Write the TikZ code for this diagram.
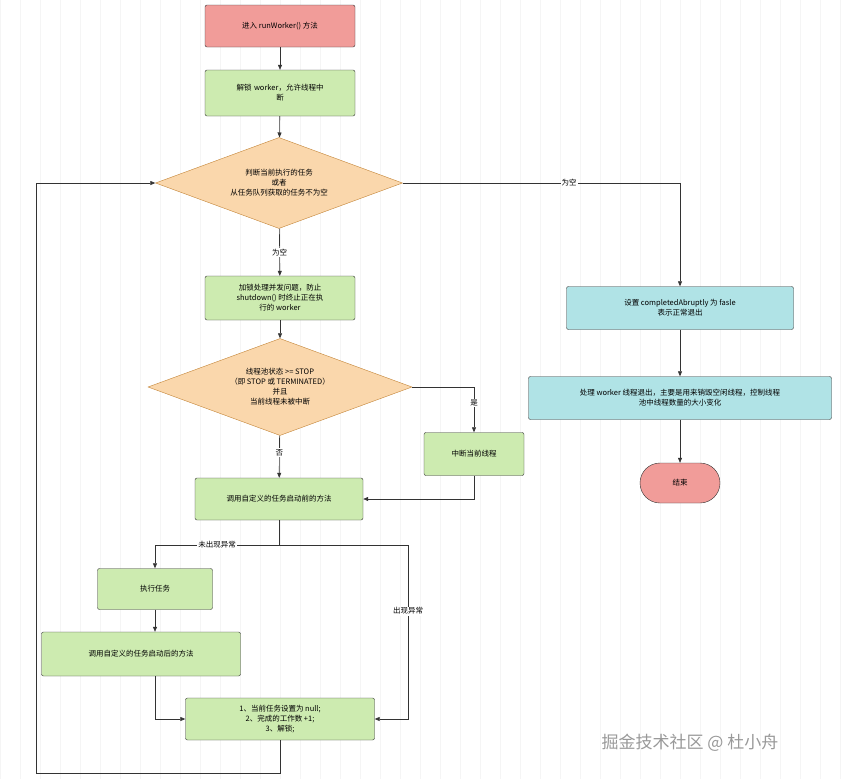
\documentclass[tikz,border=0pt]{standalone}
\usepackage{fontspec}
\setmainfont{Noto Sans CJK SC}[BoldFont={Noto Sans CJK SC Bold}]
\usetikzlibrary{shapes.geometric,arrows.meta}
\definecolor{redfill}{HTML}{F19C99}
\definecolor{greenfill2}{HTML}{CDEBB0}
\definecolor{orangefill}{HTML}{FAD7AC}
\definecolor{orangeline}{HTML}{B46504}
\definecolor{cyanfill}{HTML}{B0E3E6}
\tikzset{
  box/.style = {draw, rounded corners=2pt, align=center, inner sep=2pt, font=\fontsize{7.5}{10}\selectfont},
  green box/.style = {box, fill=greenfill2, draw=black!80},
  cyan box/.style = {box, fill=cyanfill, draw=black!80},
  red box/.style = {box, fill=redfill, draw=black!80},
  decide/.style = {diamond, aspect=2.7, draw=orangeline!80, fill=orangefill, align=center, inner sep=0pt, font=\fontsize{7.5}{10}\selectfont},
  flow/.style = {draw=black!80, line width=0.6pt, -{Triangle[length=5pt,width=4pt]}},
  lbl/.style = {fill=white, inner sep=1pt, font=\fontsize{7.5}{9}\selectfont},
}
\begin{document}
\begin{tikzpicture}[x=1pt, y=-1pt]
    \useasboundingbox (0,0) rectangle (843,779);
    \fill[white] (0,0) rectangle (843,779);
    % background grid
    \draw[black!4, line width=0.4pt, step=20] (0,0) grid (843,779);

    \node[red box, minimum width=150, minimum height=42] (start) at (280,26) {进入 runWorker() 方法};
    \node[green box, text width=140, minimum width=150, minimum height=46] (unlock) at (280,93) {解锁 worker，允许线程中\\断};
    \node[decide, minimum width=247, minimum height=91] (check) at (279,183) {判断当前执行的任务\\或者\\从任务队列获取的任务不为空};
    \node[green box, minimum width=150, minimum height=44] (lock) at (280,298) {加锁处理并发问题，防止\\shutdown() 时终止正在执\\行的 worker};
    \node[decide, minimum width=264, minimum height=97] (state) at (280,387) {线程池状态 >= STOP\\（即 STOP 或 TERMINATED）\\并且\\当前线程未被中断};
    \node[green box, minimum width=100, minimum height=43] (interrupt) at (474,454) {中断当前线程};
    \node[green box, minimum width=168, minimum height=42] (before) at (279,499) {调用自定义的任务启动前的方法};
    \node[green box, minimum width=115, minimum height=41] (exec) at (155,589) {执行任务};
    \node[green box, minimum width=199, minimum height=44] (after) at (141,654) {调用自定义的任务启动后的方法};
    \node[green box, minimum width=189, minimum height=42] (reset) at (280,719) {1、当前任务设置为 null;\\2、完成的工作数 +1;\\3、解锁;};
    \node[cyan box, minimum width=227, minimum height=43] (flag) at (680,308) {设置 completedAbruptly 为 fasle\\表示正常退出};
    \node[cyan box, minimum width=303, minimum height=43] (exit) at (680,398) {处理 worker 线程退出，主要是用来销毁空闲线程，控制线程\\池中线程数量的大小变化};
    \node[red box, rounded corners=20pt, minimum width=80, minimum height=40] (finish) at (680,483) {结束};

    \coordinate (turn) at (680,183);
    \coordinate (yes) at (474,387);
    \coordinate (split) at (279,545);
    \coordinate (errl) at (155,545);
    \coordinate (errr) at (408,545);
    \coordinate (loopa) at (280,773);
    \coordinate (loopb) at (36,773);

    \draw[flow] (start) -- (unlock);
    \draw[flow] (unlock) -- (check);
    \draw[flow] (check) -- node[lbl, pos=0.5] {为空} (lock);
    \draw[flow] (lock) -- (state);
    \draw[flow] (check.east) -- node[lbl, pos=0.6] {为空} (turn) -- (flag);
    \draw[flow] (flag) -- (exit);
    \draw[flow] (exit) -- (finish);
    \draw[flow] (state.east) -- (yes) -- node[lbl, pos=0.35] {是} (interrupt);
    \draw[flow] (state) -- node[lbl, pos=0.4] {否} (before);
    \draw[flow] (interrupt.south) |- (before.east);
    \draw[flow] (before.south) -- (split) -- node[lbl, pos=0.5] {未出现异常} (errl) -- (exec);
    \draw[flow] (split) -- (errr) -- node[lbl, pos=0.38] {出现异常} (408,719) -- (reset.east);
    \draw[flow] (exec.south) -- (exec.south |- after.north);
    \draw[flow] (after.south -| exec) |- (reset.west);
    \draw[flow] (reset.south) -- (loopa) -- (loopb) |- (check.west);

    \node[text=black!40, font=\fontsize{17}{19}\selectfont] (mark) at (690,743) {掘金技术社区 @ 杜小舟};
\end{tikzpicture}
\end{document}
